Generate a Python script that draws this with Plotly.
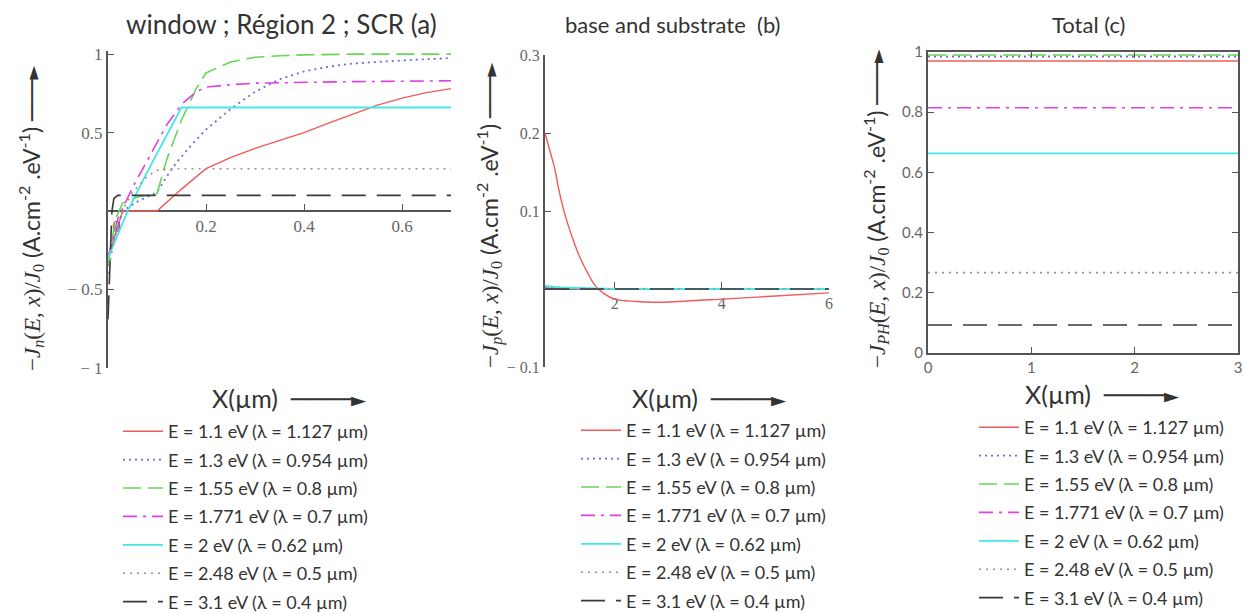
import plotly.graph_objects as go

W, H = 1247, 614

# ---------------- data ----------------
labels = ["E = 1.1 eV (λ = 1.127 µm)", "E = 1.3 eV (λ = 0.954 µm)",
          "E = 1.55 eV (λ = 0.8 µm)", "E = 1.771 eV (λ = 0.7 µm)",
          "E = 2 eV (λ = 0.62 µm)", "E = 2.48 eV (λ = 0.5 µm)",
          "E = 3.1 eV (λ = 0.4 µm)"]

# panel (a): window ; region 2 ; SCR
xa_red = [0, 0.03, 0.1, 0.15, 0.2, 0.25, 0.3, 0.35, 0.4, 0.45, 0.5, 0.55, 0.6, 0.65, 0.7]
ya_red = [-0.3, 0, 0, 0.14, 0.27, 0.34, 0.40, 0.45, 0.50, 0.56, 0.62, 0.675, 0.72, 0.755, 0.78]
xa_blue = [0, 0.03, 0.06, 0.1, 0.12, 0.14, 0.17, 0.2, 0.25, 0.3, 0.35, 0.4, 0.45, 0.5, 0.6, 0.7]
ya_blue = [-0.3, 0.0, 0.06, 0.12, 0.22, 0.31, 0.42, 0.52, 0.65, 0.76, 0.84, 0.89, 0.92, 0.94, 0.96, 0.975]
xa_green = [0, 0.015, 0.03, 0.06, 0.1, 0.12, 0.15, 0.18, 0.2, 0.25, 0.3, 0.35, 0.4, 0.5, 0.7]
ya_green = [-0.35, -0.05, 0.05, 0.09, 0.11, 0.33, 0.58, 0.78, 0.88, 0.95, 0.98, 0.99, 0.995, 1.0, 1.0]
xa_mag = [0, 0.02, 0.05, 0.08, 0.1, 0.12, 0.15, 0.18, 0.2, 0.25, 0.3, 0.4, 0.5, 0.7]
ya_mag = [-0.3, -0.05, 0.15, 0.32, 0.43, 0.55, 0.68, 0.76, 0.79, 0.805, 0.815, 0.82, 0.825, 0.83]
xa_cyan = [0, 0.04, 0.08, 0.12, 0.15, 0.7]
ya_cyan = [-0.3, 0, 0.25, 0.49, 0.66, 0.66]
xa_gray = [0, 0.02, 0.05, 0.08, 0.1, 0.13, 0.7]
ya_gray = [-0.4, -0.05, 0.12, 0.22, 0.26, 0.27, 0.27]
xa_black = [0, 0.004, 0.008, 0.012, 0.02, 0.7]
ya_black = [-0.69, -0.3, 0.0, 0.08, 0.1, 0.1]

# panel (b): base and substrate
xb_red = [0.7, 0.8, 0.88, 0.95, 1.07, 1.2, 1.33, 1.5, 1.63, 1.8, 2.0, 2.4, 2.75, 3.2, 4.0, 5.0, 6.0]
yb_red = [0.2, 0.175, 0.155, 0.13, 0.096, 0.068, 0.044, 0.02, 0.005, -0.006, -0.013, -0.016,
          -0.017, -0.016, -0.013, -0.009, -0.005]
xb_other = [0.7, 1.0, 1.5, 2.0, 3.0, 4.0, 5.0, 6.0]
yb_blue = [0.002, 0.001, 0, 0, 0, 0, 0, 0]
yb_green = [0.001, 0.001, 0, 0, 0, 0, 0, 0]
yb_mag = [0.001, 0, 0, 0, 0, 0, 0, 0]
yb_cyan = [0.004, 0.002, 0.001, 0, 0, 0, 0, 0]
yb_gray = [0.001, 0, 0, 0, 0, 0, 0, 0]
yb_black = [0, 0, 0, 0, 0, 0, 0, 0]

# panel (c): total
xc = [0, 3]
yc_red = [0.97, 0.97]
yc_blue = [0.985, 0.985]
yc_green = [0.99, 0.99]
yc_mag = [0.815, 0.815]
yc_cyan = [0.663, 0.663]
yc_gray = [0.267, 0.267]
yc_black = [0.093, 0.093]

# ---------------- styles ----------------
colors = ["#f05a5a", "#6a6ae0", "#66d855", "#e040e0", "#45e6e6", "#a09088", "#3a3a3a"]
dashes = ["solid", "2px,4px", "18px,7px", "14px,6px,3px,6px", "solid", "2px,5px", "24px,11px"]
widths = [1.4, 1.8, 1.6, 1.6, 1.8, 1.6, 1.6]

panels = [
    ("x", "y", "legend",
     [(xa_red, ya_red), (xa_blue, ya_blue), (xa_green, ya_green), (xa_mag, ya_mag),
      (xa_cyan, ya_cyan), (xa_gray, ya_gray), (xa_black, ya_black)]),
    ("x2", "y2", "legend2",
     [(xb_red, yb_red), (xb_other, yb_blue), (xb_other, yb_green), (xb_other, yb_mag),
      (xb_other, yb_cyan), (xb_other, yb_gray), (xb_other, yb_black)]),
    ("x3", "y3", "legend3",
     [(xc, yc_red), (xc, yc_blue), (xc, yc_green), (xc, yc_mag),
      (xc, yc_cyan), (xc, yc_gray), (xc, yc_black)]),
]

fig = go.Figure()
for pi, (xr, yr, lg, series) in enumerate(panels):
    for i, (xs, ys) in enumerate(series):
        fig.add_trace(go.Scatter(
            x=xs, y=ys, mode="lines", name=labels[i],
            xaxis=xr, yaxis=yr, legend=lg, legendgroup=f"{lg}_{i}",
            line=dict(color=colors[i], dash=dashes[i], width=widths[i],
                      shape="spline" if (pi == 1 and i == 0) else "linear"),
            hoverinfo="skip"))


def px(v):
    return v / W


def py(v):
    return 1 - v / H


axcol = "#555555"
tickfont_a = dict(family="Liberation Serif", size=17, color="#666666")
tickfont_b = dict(family="Liberation Serif", size=16, color="#666666")
tickfont_c = dict(family="Lato", size=15, color="#666666")

legend_common = dict(font=dict(family="Lato", size=18, color="#333333"),
                     itemwidth=40, tracegroupgap=2, bgcolor="rgba(0,0,0,0)",
                     xanchor="left", yanchor="top")

NB = "\u00a0"

fig.update_layout(
    width=W, height=H, margin=dict(l=0, r=0, t=0, b=0, autoexpand=False),
    paper_bgcolor="white", plot_bgcolor="white",
    # panel (a)
    xaxis=dict(domain=[px(108), px(451)], range=[0, 0.7], anchor="free", position=py(211),
               showline=True, linecolor=axcol, linewidth=2, showgrid=False, zeroline=False,
               tickvals=[0, 0.2, 0.4, 0.6], ticktext=[NB * 4 + "0", "0.2", "0.4", "0.6"],
               ticks="inside", ticklen=6, tickcolor=axcol, tickfont=tickfont_a, layer="below traces"),
    yaxis=dict(domain=[py(368), py(51)], range=[-1, 1.02], anchor="x",
               showline=True, linecolor=axcol, linewidth=2, showgrid=False, zeroline=False,
               tickvals=[-1, -0.5, 0.5, 1], ticktext=["− 1", "− 0.5", "0.5", "1"],
               ticks="inside", ticklen=6, tickcolor=axcol, tickfont=tickfont_a, layer="below traces"),
    # panel (b)
    xaxis2=dict(domain=[px(545), px(829)], range=[0.7, 6], anchor="free", position=py(289),
                showline=True, linecolor=axcol, linewidth=2, showgrid=False, zeroline=False,
                tickvals=[2, 4, 6], ticks="inside", ticklen=6, tickcolor=axcol,
                tickfont=tickfont_b, layer="below traces"),
    yaxis2=dict(domain=[py(367), py(55)], range=[-0.1, 0.3], anchor="x2",
                showline=True, linecolor=axcol, linewidth=2, showgrid=False, zeroline=False,
                tickvals=[-0.1, 0.1, 0.2, 0.3], ticktext=["− 0.1", "0.1", "0.2", "0.3"],
                ticks="inside", ticklen=6, tickcolor=axcol, tickfont=tickfont_b, layer="below traces"),
    # panel (c)
    xaxis3=dict(domain=[px(928), px(1238)], range=[0, 3], anchor="y3",
                showline=True, mirror="ticks", linecolor=axcol, linewidth=2, showgrid=False,
                zeroline=False, tickvals=[0, 1, 2, 3], ticks="inside", ticklen=6,
                tickcolor=axcol, tickfont=tickfont_c),
    yaxis3=dict(domain=[py(353), py(52)], range=[0, 1], anchor="x3",
                showline=True, mirror="ticks", linecolor=axcol, linewidth=2, showgrid=False,
                zeroline=False, tickvals=[0, 0.2, 0.4, 0.6, 0.8, 1],
                ticktext=["0", "0.2", "0.4", "0.6", "0.8", "1"], ticks="inside", ticklen=6,
                tickcolor=axcol, tickfont=tickfont_c),
    legend=dict(x=px(118), y=py(413), **legend_common),
    legend2=dict(x=px(576), y=py(412), **legend_common),
    legend3=dict(x=px(974), y=py(409), **legend_common),
    showlegend=True,
)

serif = "font-family:Liberation Serif"


def arrow(n):
    return f"<span style='font-family:DejaVu Sans Mono'>{'─' * n}►</span>"


def ytitle(sub):
    return (f"<span style='{serif}'>−<i>J</i><sub><i>{sub}</i></sub>(<i>E</i>, <i>x</i>)/"
            f"<i>J</i><sub>0</sub></span> (A.cm<sup>-2</sup> .eV<sup>-1</sup>) {arrow(3)}")


ann = []
# panel titles
ann.append(dict(text="window ; Région 2 ; SCR (a)", x=px(281), y=py(24),
                font=dict(family="Lato", size=26, color="#333333")))
ann.append(dict(text="base and substrate  (b)", x=px(672), y=py(24),
                font=dict(family="Lato", size=22, color="#333333")))
ann.append(dict(text="Total (c)", x=px(1088), y=py(24),
                font=dict(family="Lato", size=22, color="#333333")))
# y titles
ann.append(dict(text=ytitle("n"), x=px(31), y=py(218), textangle=-90,
                font=dict(family="Lato", size=23, color="#333333")))
ann.append(dict(text=ytitle("p"), x=px(489), y=py(215), textangle=-90,
                font=dict(family="Lato", size=23, color="#333333")))
ann.append(dict(text=ytitle("PH"), x=px(876), y=py(209), textangle=-90,
                font=dict(family="Lato", size=23, color="#333333")))
# x titles
for cx, cy in [(289, 398), (709, 398), (1102, 395)]:
    ann.append(dict(text=f"X(µm)  {arrow(4)}", x=px(cx), y=py(cy),
                    font=dict(family="Lato", size=25, color="#333333")))

for a in ann:
    a.update(xref="paper", yref="paper", showarrow=False, xanchor="center", yanchor="middle")
fig.update_layout(annotations=ann)

fig.write_html("out.html")
